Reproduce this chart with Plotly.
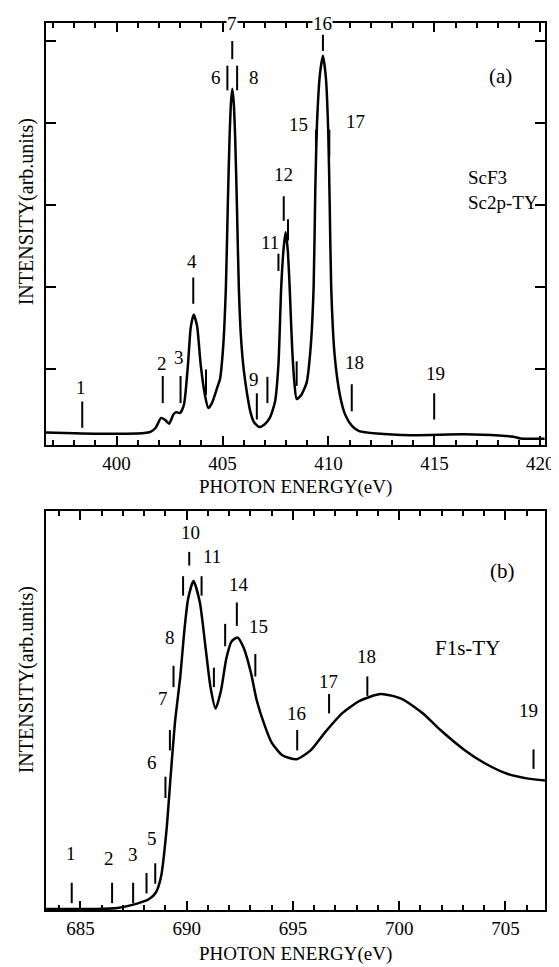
import plotly.graph_objects as go

# ---------------- data: panel (a) Sc2p-TY ----------------
a_energy = [396.67, 398.0, 400.0, 401.3, 401.6, 401.85, 402.1, 402.27, 402.48, 402.68, 402.81, 403.0,
            403.18, 403.37, 403.5, 403.64, 403.8, 403.97, 404.17, 404.33, 404.5, 404.75, 404.88, 405.03,
            405.16, 405.25, 405.33, 405.4, 405.46, 405.53, 405.6, 405.68, 405.77, 405.87, 406.0, 406.15,
            406.32, 406.48, 406.73, 406.98, 407.23, 407.48, 407.64, 407.77, 407.89, 407.98, 408.08, 408.17,
            408.28, 408.39, 408.5, 408.72, 408.97, 409.16, 409.3, 409.38, 409.46, 409.6, 409.74, 409.88,
            409.99, 410.06, 410.13, 410.29, 410.54, 410.79, 411.12, 411.45, 412.27, 413.93, 416.4, 418.06,
            418.73, 419.06, 420.2]
a_intensity = [0.233, 0.224, 0.216, 0.225, 0.24, 0.29, 0.41, 0.39, 0.34, 0.45, 0.48, 0.47,
               0.57, 1.06, 1.51, 1.67, 1.53, 1.06, 0.69, 0.53, 0.59, 0.78, 0.88, 1.27,
               2.0, 3.0, 3.8, 4.25, 4.42, 4.25, 3.8, 3.0, 2.0, 1.4, 1.0, 0.72,
               0.48, 0.36, 0.30, 0.33, 0.41, 0.61, 1.06, 2.0, 2.49, 2.67, 2.45, 2.0,
               1.3, 0.85, 0.64, 0.69, 0.84, 1.27, 2.0, 3.2, 4.0, 4.6, 4.82, 4.55,
               3.9, 3.0, 2.0, 1.18, 0.69, 0.45, 0.31, 0.25, 0.22, 0.20, 0.21, 0.196,
               0.18, 0.16, 0.155]
a_mark_energy = [398.38, 402.18, 403.02, 403.62, 404.22, 405.23, 405.46, 405.69, 406.62, 407.12,
                 407.64, 407.89, 408.09, 408.5, 409.41, 409.74, 410.04, 411.1, 414.99]
a_mark_low = [0.29, 0.59, 0.59, 1.80, 0.69, 4.40, 4.78, 4.40, 0.39, 0.59,
              2.20, 2.81, 2.57, 0.80, 3.59, 4.88, 3.59, 0.49, 0.39]
a_mark_high = [0.61, 0.92, 0.92, 2.12, 1.0, 4.70, 5.0, 4.70, 0.71, 0.91,
               2.41, 3.11, 2.83, 1.10, 3.92, 5.08, 3.92, 0.82, 0.71]
a_label_text = ["1", "2", "3", "4", "6", "8", "9", "11", "12", "15", "17", "18", "19"]
a_label_energy = [398.33, 402.13, 402.97, 403.58, 404.67, 406.49, 406.49, 407.22, 407.89, 408.6, 411.28, 411.24, 415.04]
a_label_intensity = [0.78, 1.07, 1.14, 2.31, 4.56, 4.56, 0.88, 2.55, 3.37, 3.98, 4.02, 1.08, 0.95]
a_top_label_text = ["7", "16"]
a_top_label_energy = [405.46, 409.74]
a_xrange = [396.67, 420.22]
a_yrange = [0.08, 5.22]
a_xticks = [400, 405, 410, 415, 420]
a_yticks = [1, 2, 3, 4, 5]

# ---------------- data: panel (b) F1s-TY ----------------
b_energy = [683.38, 685.74, 686.74, 687.4, 688.22, 688.55, 688.8, 689.05, 689.25, 689.46, 689.7,
            689.88, 690.07, 690.32, 690.62, 690.87, 691.12, 691.36, 691.61, 691.86, 692.11, 692.39,
            692.69, 693.02, 693.3, 693.68, 694.0, 694.5, 695.17, 695.83, 696.49, 697.31, 698.14,
            699.13, 700.12, 701.12, 701.94, 703.1, 704.09, 705.08, 706.07, 706.86]
b_intensity = [0.01, 0.01, 0.02, 0.05, 0.11, 0.18, 0.35, 0.82, 1.39, 1.95, 2.4,
               2.85, 3.2, 3.38, 3.16, 2.73, 2.29, 2.07, 2.25, 2.58, 2.76, 2.80,
               2.69, 2.44, 2.15, 1.89, 1.72, 1.59, 1.55, 1.64, 1.82, 2.02, 2.15,
               2.22, 2.17, 2.02, 1.85, 1.64, 1.50, 1.40, 1.35, 1.33]
b_mark_energy = [684.59, 686.49, 687.48, 688.11, 688.52, 689.0, 689.21, 689.38, 689.83, 690.12,
                 690.7, 691.28, 691.81, 692.36, 693.23, 695.2, 696.7, 698.5, 706.32]
b_mark_low = [0.07, 0.07, 0.07, 0.17, 0.27, 1.15, 1.64, 2.29, 3.23, 3.54,
              3.23, 2.29, 2.71, 2.92, 2.40, 1.64, 2.02, 2.20, 1.45]
b_mark_high = [0.28, 0.28, 0.28, 0.38, 0.48, 1.37, 1.85, 2.51, 3.43, 3.68,
               3.43, 2.49, 2.94, 3.16, 2.63, 1.85, 2.22, 2.40, 1.65]
b_label_text = ["1", "2", "3", "5", "6", "7", "8", "10", "11", "14", "15", "16", "17", "18", "19"]
b_label_energy = [684.55, 686.36, 687.48, 688.35, 688.35, 688.9, 689.2, 690.2, 691.2, 692.44, 693.38,
                  695.17, 696.66, 698.47, 706.07]
b_label_intensity = [0.58, 0.53, 0.57, 0.73, 1.52, 2.17, 2.80, 3.88, 3.63, 3.34, 2.91,
                     2.02, 2.35, 2.60, 2.05]
b_xrange = [683.38, 706.86]
b_yrange = [0.0, 4.1]
b_xticks = [685, 690, 695, 700, 705]

FONT = "Liberation Serif"


def segments(xs, lo, hi):
    X, Y = [], []
    for x, a, b in zip(xs, lo, hi):
        X += [x, x, None]
        Y += [a, b, None]
    return X, Y


fig = go.Figure()
fig.add_trace(go.Scatter(x=a_energy, y=a_intensity, mode="lines", xaxis="x", yaxis="y",
                         line=dict(color="black", width=2.5, shape="spline", smoothing=0.6)))
mx, my = segments(a_mark_energy, a_mark_low, a_mark_high)
fig.add_trace(go.Scatter(x=mx, y=my, mode="lines", xaxis="x", yaxis="y",
                         line=dict(color="black", width=2)))
fig.add_trace(go.Scatter(x=b_energy, y=b_intensity, mode="lines", xaxis="x2", yaxis="y2",
                         line=dict(color="black", width=2.5, shape="spline", smoothing=0.6)))
mx, my = segments(b_mark_energy, b_mark_low, b_mark_high)
fig.add_trace(go.Scatter(x=mx, y=my, mode="lines", xaxis="x2", yaxis="y2",
                         line=dict(color="black", width=2)))

W, H = 559, 967
ml, mr, mt, mb = 38, 14, 15, 65
ph = H - mt - mb
bottom_px = H - mb


def py(y):
    """pixel row -> paper fraction"""
    return (bottom_px - y) / ph


def px(x):
    return (x - ml) / (W - ml - mr)


a_dom = [py(437), 1.0]
b_dom = [0.0, py(503)]

xcommon = dict(showline=True, linecolor="black", linewidth=2, mirror="ticks", ticks="inside",
               ticklen=9, tickwidth=2, tickcolor="black", showgrid=False, zeroline=False,
               tickfont=dict(family=FONT, size=19, color="black"),
               minor=dict(dtick=1, ticks="inside", ticklen=5, tickwidth=1.5, tickcolor="black", showgrid=False))

fig.update_layout(
    width=W, height=H, margin=dict(l=ml, r=mr, t=mt, b=mb),
    paper_bgcolor="white", plot_bgcolor="white", showlegend=False,
    xaxis=dict(xcommon, range=a_xrange, tickvals=a_xticks, anchor="y", domain=[0, 1]),
    yaxis=dict(range=a_yrange, tickvals=a_yticks, showticklabels=False, ticks="inside", ticklen=10,
               tickwidth=2, tickcolor="black", showline=True, linecolor="black", linewidth=2,
               mirror="ticks", showgrid=False, zeroline=False, domain=a_dom, anchor="x"),
    xaxis2=dict(xcommon, range=b_xrange, tickvals=b_xticks, anchor="y2", domain=[0, 1]),
    yaxis2=dict(range=b_yrange, showticklabels=False, ticks="", showline=True, linecolor="black",
                linewidth=2, mirror=True, showgrid=False, zeroline=False, domain=b_dom, anchor="x2"),
)

ann = []
for t, x, y in zip(a_label_text, a_label_energy, a_label_intensity):
    ann.append(dict(text=t, x=x, y=y, xref="x", yref="y", showarrow=False,
                    xanchor="center", yanchor="middle",
                    font=dict(family=FONT, size=19, color="black")))
for t, x in zip(a_top_label_text, a_top_label_energy):
    ann.append(dict(text=t, x=x, y=a_yrange[1], xref="x", yref="y", showarrow=False, bgcolor="white",
                    xanchor="center", yanchor="middle", borderpad=0,
                    font=dict(family=FONT, size=19, color="black")))
for t, x, y in zip(b_label_text, b_label_energy, b_label_intensity):
    ann.append(dict(text=t, x=x, y=y, xref="x2", yref="y2", showarrow=False,
                    xanchor="center", yanchor="middle",
                    font=dict(family=FONT, size=19, color="black")))

ann += [
    dict(text="(a)", x=418.1, y=4.58, xref="x", yref="y", showarrow=False, xanchor="center", yanchor="middle",
         font=dict(family=FONT, size=21, color="black")),
    dict(text="ScF3<br>Sc2p-TY", x=416.5, y=3.18, xref="x", yref="y", showarrow=False, xanchor="left",
         yanchor="middle", align="left", font=dict(family=FONT, size=19, color="black")),
    dict(text="(b)", x=704.85, y=3.48, xref="x2", yref="y2", showarrow=False, xanchor="center", yanchor="middle",
         font=dict(family=FONT, size=21, color="black")),
    dict(text="F1s-TY", x=703.2, y=2.69, xref="x2", yref="y2", showarrow=False, xanchor="center", yanchor="middle",
         font=dict(family=FONT, size=21, color="black")),
    dict(text="PHOTON ENERGY(eV)", x=0.5, y=py(479), xref="paper", yref="paper", xanchor="center",
         yanchor="middle", showarrow=False, font=dict(family=FONT, size=19, color="black")),
    dict(text="PHOTON ENERGY(eV)", x=0.5, y=py(946), xref="paper", yref="paper", xanchor="center",
         yanchor="middle", showarrow=False, font=dict(family=FONT, size=19, color="black")),
    dict(text="INTENSITY(arb.units)", x=px(18), y=py(204), xref="paper", yref="paper",
         xanchor="center", yanchor="middle", showarrow=False, textangle=-90,
         font=dict(family=FONT, size=20, color="black")),
    dict(text="INTENSITY(arb.units)", x=px(18), y=py(672), xref="paper", yref="paper",
         xanchor="center", yanchor="middle", showarrow=False, textangle=-90,
         font=dict(family=FONT, size=20, color="black")),
]
fig.update_layout(annotations=ann)

fig.write_html("out.html")
